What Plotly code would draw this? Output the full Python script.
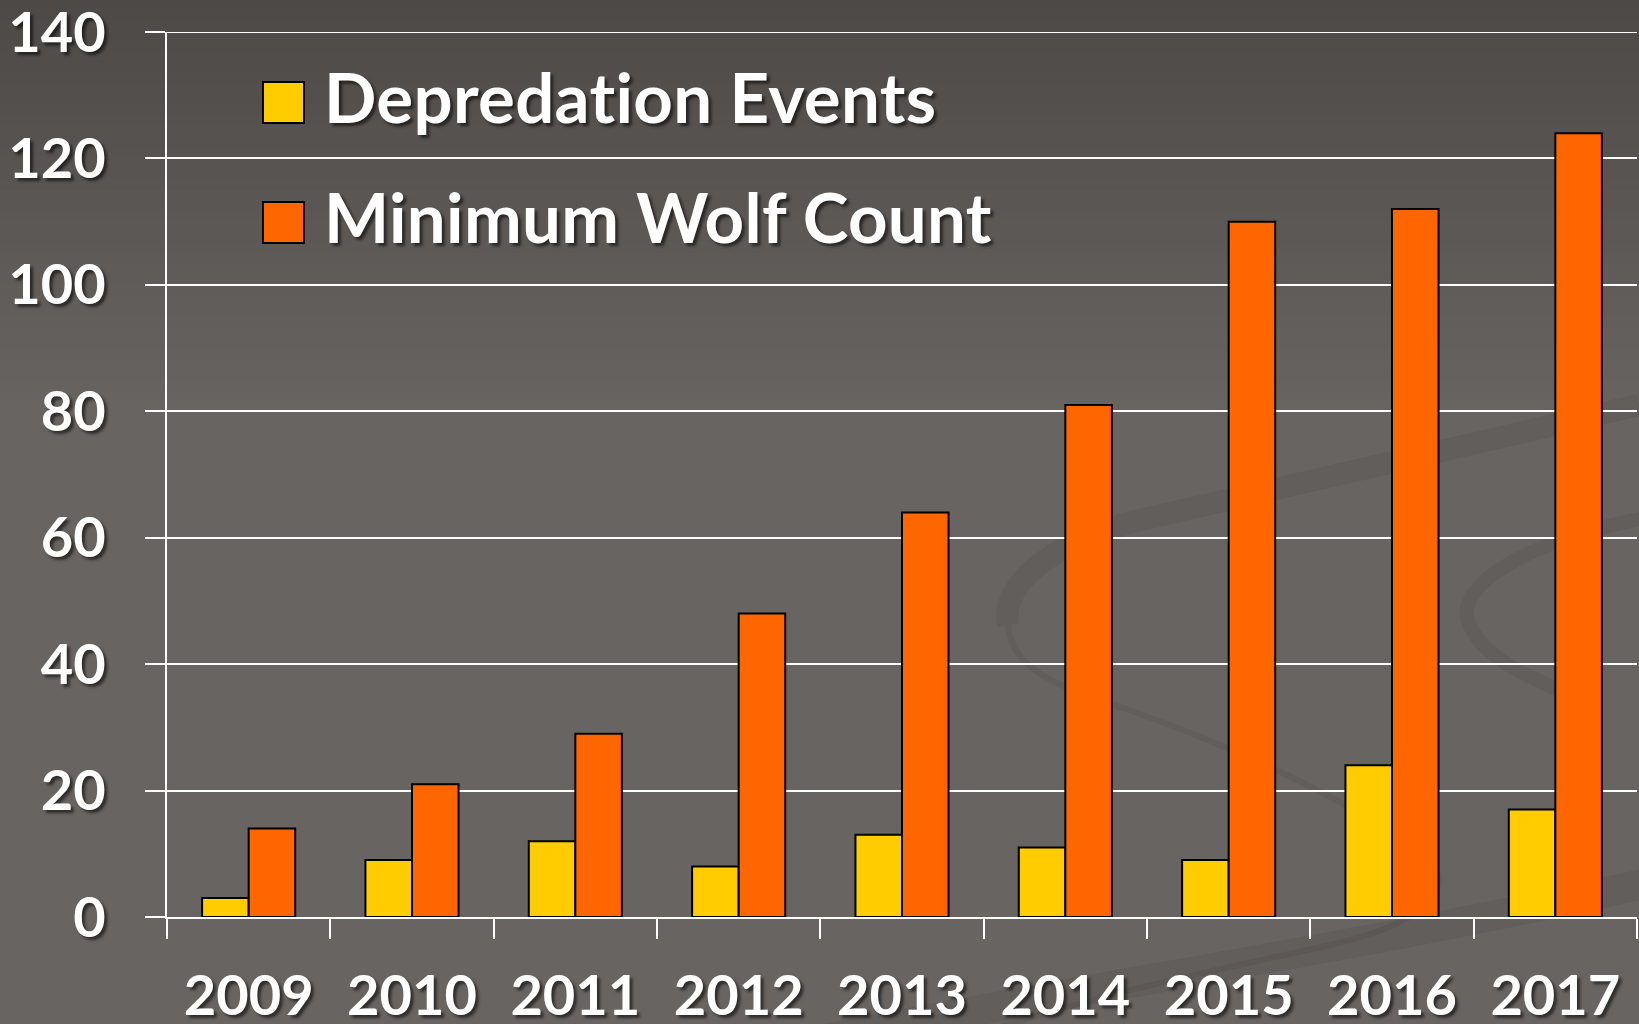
import plotly.graph_objects as go

years = ["2009", "2010", "2011", "2012", "2013", "2014", "2015", "2016", "2017"]
depredation = [3, 9, 12, 8, 13, 11, 9, 24, 17]
wolf_count = [14, 21, 29, 48, 64, 81, 110, 112, 124]
y_ticks = [0, 20, 40, 60, 80, 100, 120, 140]
series_names = ["Depredation Events", "Minimum Wolf Count"]
series_colors = ["#FFCC00", "#FF6600"]

W, H = 1639, 1024
L, R, T, B = 167, 2, 32, 107
FONT = "Lato"
SHADOW = "3px 3px 3px rgba(0,0,0,0.55)"

fig = go.Figure()
for name, vals, col in zip(series_names, [depredation, wolf_count], series_colors):
    fig.add_trace(go.Bar(
        x=years, y=vals, name=name,
        marker=dict(color=col, line=dict(color="#000000", width=2)),
        showlegend=False,
    ))

def px_x(px):
    return (px - L) / (W - L - R)

def px_y(py):
    return (H - B - py) / (H - T - B)

def path(cmds):
    out = []
    for c in cmds:
        if isinstance(c, str):
            out.append(c)
        else:
            out.append("%.4f,%.4f" % (px_x(c[0]), px_y(c[1])))
    return " ".join(out)

shapes = []
# vertical background gradient
n = 40
top = (76, 73, 71)
mid = (104, 100, 98)
for i in range(n):
    f = i / (n - 1)
    c = tuple(int(top[k] + (mid[k] - top[k]) * f) for k in range(3))
    shapes.append(dict(type="rect", xref="paper", yref="paper", layer="below",
                       x0=-0.2, x1=1.1, y0=1.05 - (i + 1) * 0.012, y1=1.05 - i * 0.012 + 0.001,
                       fillcolor="rgb(%d,%d,%d)" % c, line=dict(width=0)))
# faint decorative swirl
swirl = "rgba(40,38,36,0.09)"
swirls = [
    (["M", (1008, 625), "C", (1000, 580), (1060, 540), (1140, 520), "S", (1450, 450), (1639, 405)], 22),
    (["M", (1008, 625), "C", (1010, 660), (1040, 680), (1100, 700), "S", (1300, 770), (1420, 850),
      "C", (1460, 880), (1440, 920), (1330, 945), "S", (1100, 990), (900, 1060)], 6),
    (["M", (820, 1040), "C", (1100, 985), (1400, 940), (1660, 880)], 30),
    (["M", (1660, 515), "C", (1520, 540), (1450, 590), (1470, 625), "C", (1480, 650), (1510, 670), (1560, 690)], 14),
]
for cmds, w in swirls:
    shapes.append(dict(type="path", xref="paper", yref="paper", layer="below",
                       path=path(cmds), line=dict(color=swirl, width=w)))
# top gridline at 140
shapes.append(dict(type="line", xref="paper", yref="y", x0=0, x1=1, y0=140, y1=140,
                   line=dict(color="white", width=2)))
# legend squares
annotations = []
for i, (name, col) in enumerate(zip(series_names, series_colors)):
    y0 = 82 + i * 120
    shapes.append(dict(type="rect", xref="paper", yref="paper",
                       x0=px_x(263), x1=px_x(304), y0=px_y(y0 + 41), y1=px_y(y0),
                       fillcolor=col, line=dict(color="#000000", width=2)))
    annotations.append(dict(
        text="<span style=\"font-variant-ligatures:none;letter-spacing:0.3px\"><b>%s</b></span>" % name,
        xref="paper", yref="paper",
        x=px_x(322), y=px_y(y0 + 14), xanchor="left", yanchor="middle",
        showarrow=False,
        font=dict(family=FONT, size=69, color="white", shadow=SHADOW)))

fig.update_layout(
    width=W, height=H,
    margin=dict(l=L, r=R, t=T, b=B, pad=0),
    paper_bgcolor="rgb(104,100,98)",
    plot_bgcolor="rgba(0,0,0,0)",
    barmode="group", bargap=0.43, bargroupgap=0,
    shapes=shapes, annotations=annotations,
    font=dict(family=FONT, color="white"),
)
fig.update_xaxes(
    type="category", showgrid=False, showline=True, linecolor="white", linewidth=2,
    ticks="outside", tickson="boundaries", ticklen=20, tickwidth=2, tickcolor="white",
    tickfont=dict(family=FONT, size=56, color="white", weight="bold", shadow=SHADOW),
    ticklabelstandoff=29, zeroline=False, ticklabeloverflow="allow", automargin=False,
)
fig.update_yaxes(
    range=[0, 140], tickvals=y_ticks, showgrid=True, gridcolor="white", gridwidth=2,
    showline=True, linecolor="white", linewidth=2, zeroline=False,
    ticks="outside", ticklen=20, tickwidth=2, tickcolor="white",
    tickfont=dict(family=FONT, size=56, color="white", weight="bold", shadow=SHADOW),
    ticklabelstandoff=28, ticklabeloverflow="allow", automargin=False,
)
fig.write_html("out.html", config={"displayModeBar": False},
               post_script="document.body.style.margin='0';document.body.style.overflow='hidden';")
